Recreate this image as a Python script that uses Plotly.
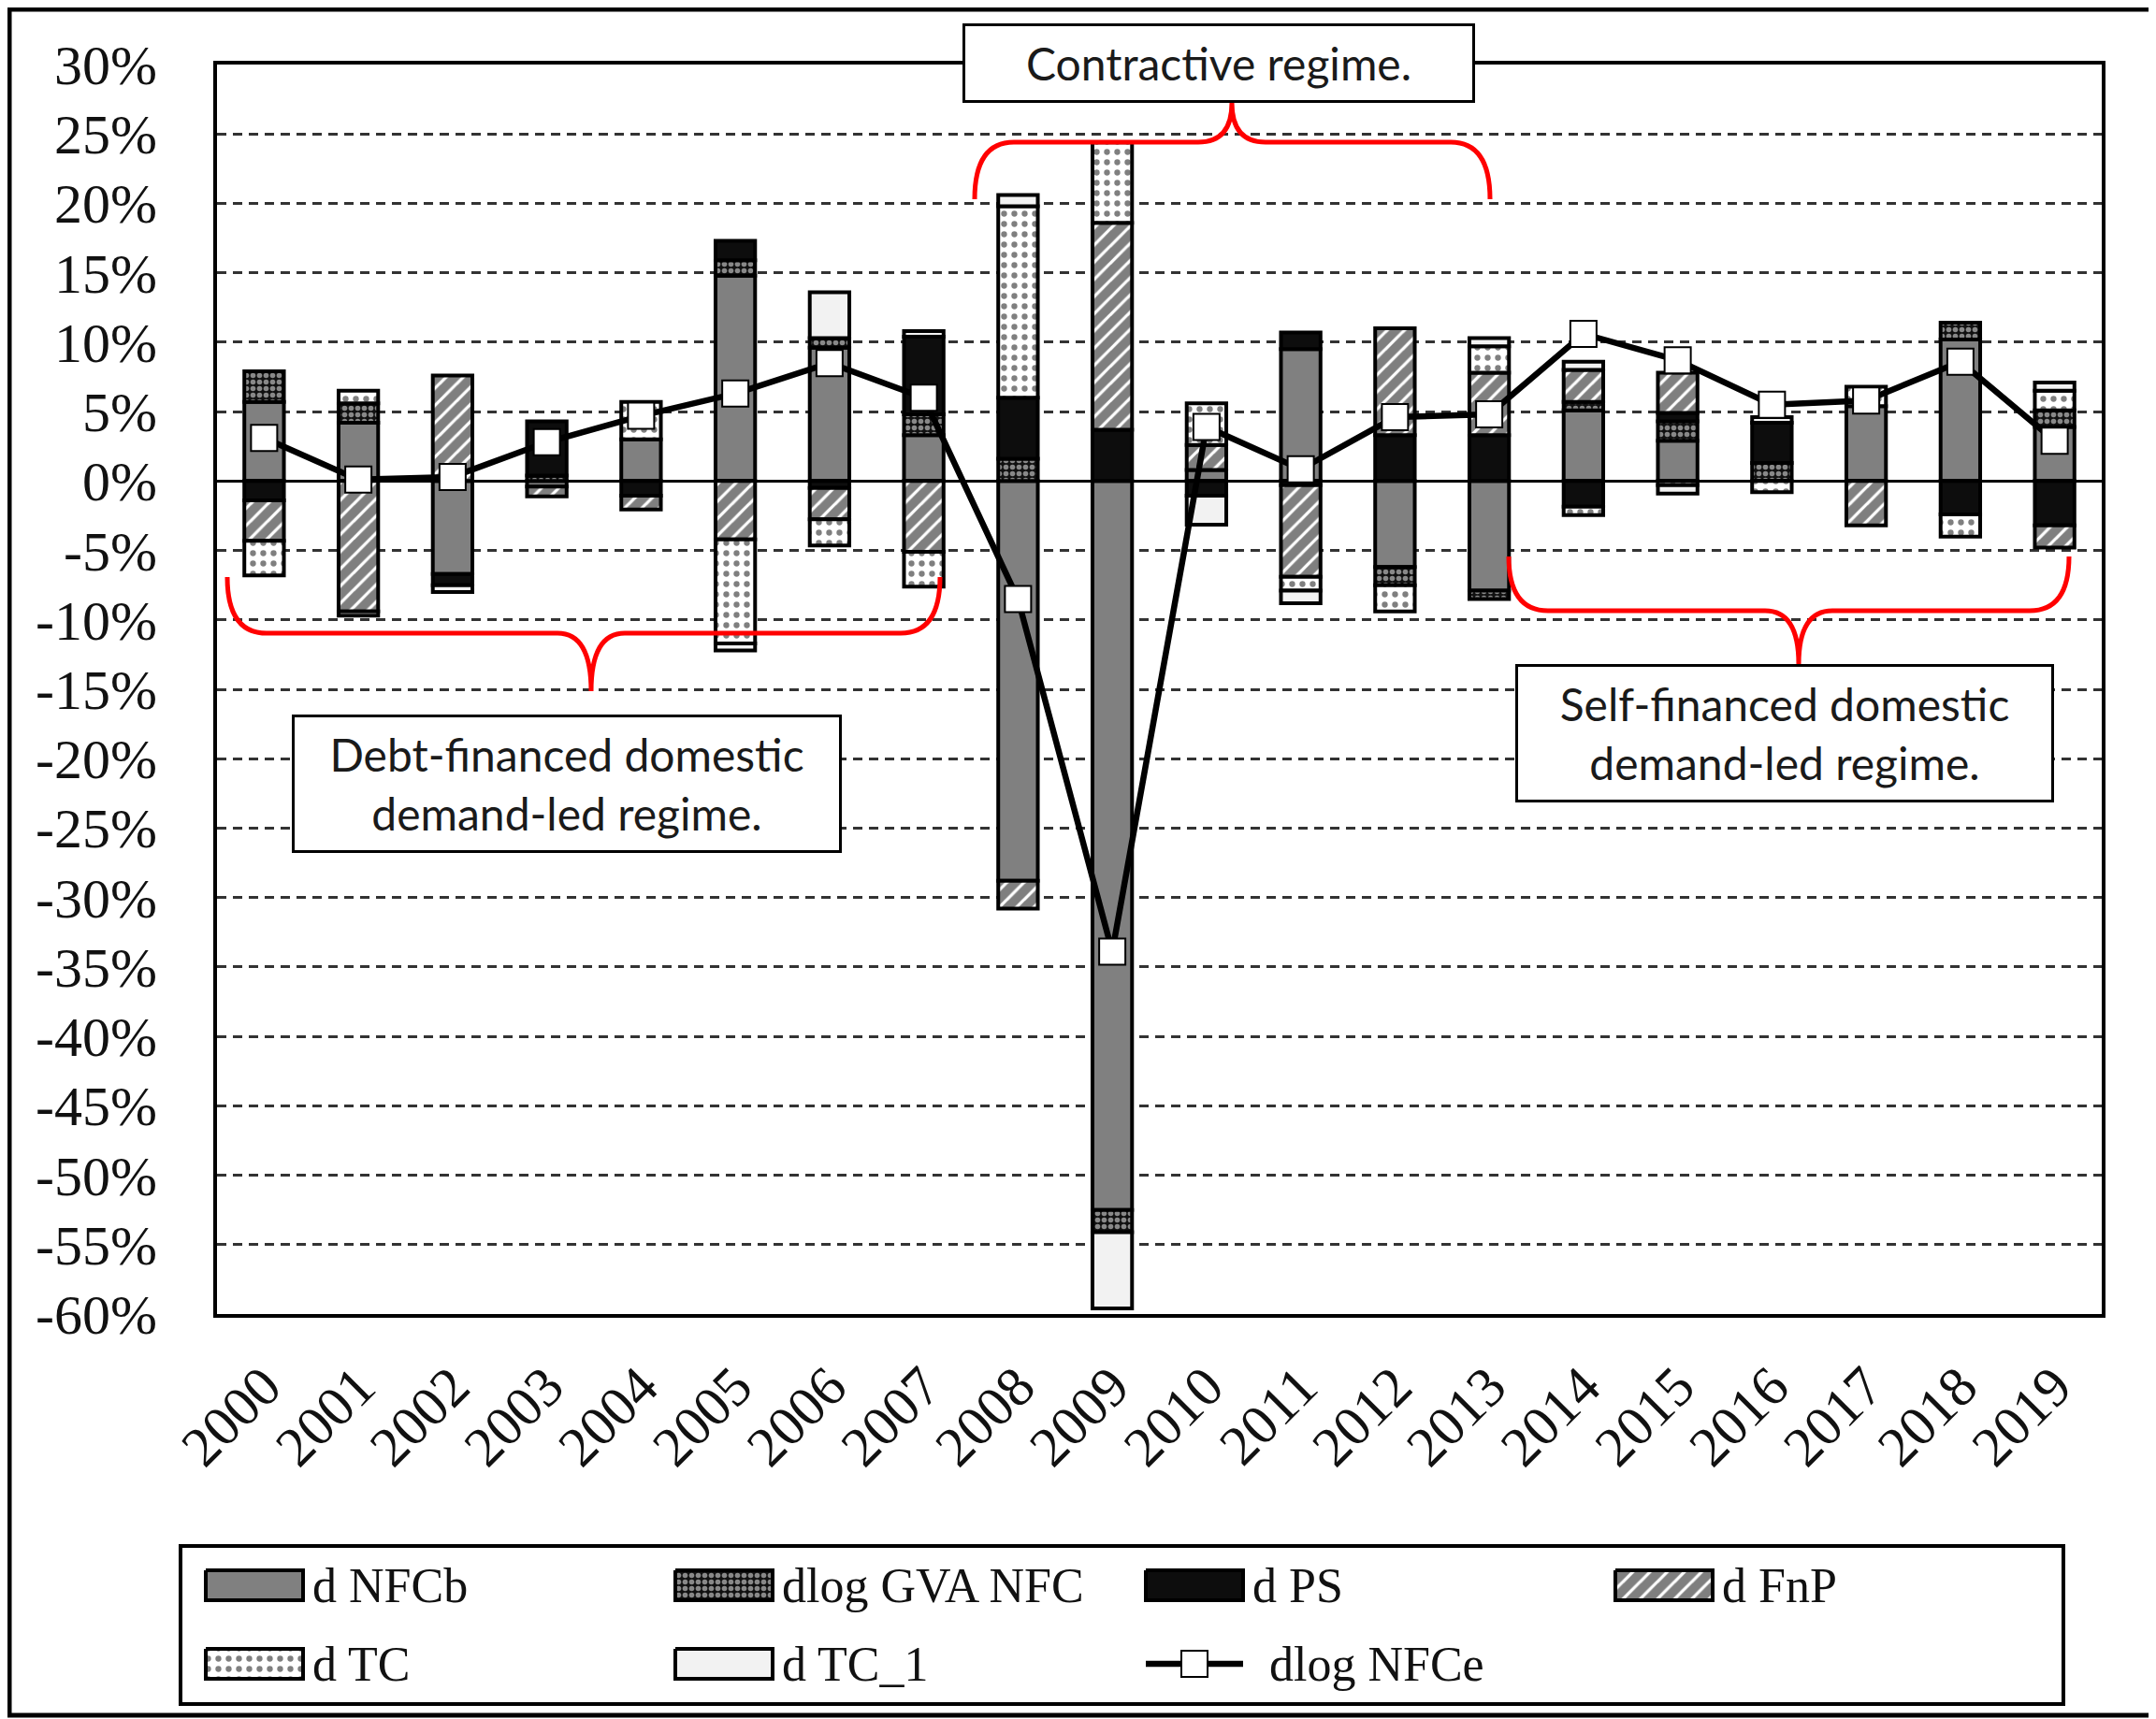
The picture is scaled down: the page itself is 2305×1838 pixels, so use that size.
import plotly.graph_objects as go

# ---------------- data (percent) ----------------
years = ["2000", "2001", "2002", "2003", "2004", "2005", "2006", "2007", "2008", "2009",
         "2010", "2011", "2012", "2013", "2014", "2015", "2016", "2017", "2018", "2019"]
d_nfcb = [5.7, 4.2, -6.7, -0.4, 3.0, 14.8, 9.6, 3.3, -28.8, -52.5,
          0.8, 9.5, -6.2, -7.9, 5.1, 2.9, 0, 5.4, 10.2, 3.9]
dlog_gva_nfc = [2.2, 1.4, 0, 0.4, 0, 1.1, 0.7, 1.5, 1.6, -1.6,
                0, -0.3, -1.3, -0.6, 0.6, 1.4, 1.3, 0, 1.2, 1.2]
d_ps = [-1.4, 0, -0.8, 3.9, -1.05, 1.4, -0.5, 5.6, 4.4, 3.7,
        -1.05, 1.2, 3.3, 3.3, -1.85, 0.6, 2.9, 0, -2.4, -3.2]
d_fnp = [-2.9, -9.4, 7.6, -0.7, -1.0, -4.2, -2.25, -5.1, -2.0, 14.9,
         1.8, -6.6, 7.7, 4.5, 2.3, 2.9, 0, -3.2, 0, -1.6]
d_tc = [-2.5, 0.9, 0, 0, 2.7, -7.5, -1.9, -2.5, 13.8, 5.8,
        3.0, -1.0, -1.9, 1.9, -0.6, -0.3, -0.8, 1.4, -1.6, 1.4]
d_tc_1 = [0, -0.3, -0.5, 0, 0, -0.5, 3.3, 0.4, 0.8, -5.5,
          -2.1, -0.9, 0, 0.6, 0.6, -0.6, 0.4, 0, 0, 0.6]
dlog_nfce = [3.1, 0.1, 0.3, 2.8, 4.7, 6.3, 8.5, 6.0, -8.5, -33.9,
             3.9, 0.85, 4.6, 4.8, 10.6, 8.7, 5.5, 5.8, 8.6, 2.9]

y_tick_values = [30, 25, 20, 15, 10, 5, 0, -5, -10, -15, -20, -25, -30, -35, -40, -45, -50, -55, -60]
y_tick_labels = ["30%", "25%", "20%", "15%", "10%", "5%", "0%", "-5%", "-10%", "-15%", "-20%",
                 "-25%", "-30%", "-35%", "-40%", "-45%", "-50%", "-55%", "-60%"]

series_names = ["d NFCb", "dlog GVA NFC", "d PS", "d FnP", "d TC", "d TC_1"]
series_values = [d_nfcb, dlog_gva_nfc, d_ps, d_fnp, d_tc, d_tc_1]

# ---------------- styles / layout constants ----------------
W, H = 2305, 1838
OFF = 8  # page body margin: layout positions below are given in page-pixel terms
SERIF = "Liberation Serif"
SANS = "Lato"
styles = {
    "d NFCb": dict(color="#808080"),
    "dlog GVA NFC": dict(color="black", pattern=dict(shape=".", fgcolor="white", bgcolor="#111111", size=7, solidity=0.5)),
    "d PS": dict(color="#0d0d0d"),
    "d FnP": dict(color="white", pattern=dict(shape="/", fgcolor="black", bgcolor="white", size=13, solidity=0.75)),
    "d TC": dict(color="white", pattern=dict(shape=".", fgcolor="black", bgcolor="white", size=11, solidity=0.26)),
    "d TC_1": dict(color="#f2f2f2"),
}

fig = go.Figure()
for name, vals in zip(series_names, series_values):
    st = styles[name]
    marker = dict(color=st["color"], line=dict(color="black", width=4))
    if "pattern" in st:
        marker["pattern"] = st["pattern"]
    fig.add_trace(go.Bar(x=years, y=[v if v else None for v in vals], name=name,
                         marker=marker, xaxis="x", yaxis="y", hoverinfo="skip"))

fig.add_trace(go.Scatter(x=years, y=dlog_nfce, name="dlog NFCe", mode="lines+markers",
                         line=dict(color="black", width=6.5),
                         marker=dict(symbol="square", size=28, color="white",
                                     line=dict(color="black", width=2)),
                         xaxis="x", yaxis="y"))

# ---------------- custom legend (on pixel overlay axis) ----------------
leg_cols = [220, 722, 1225, 1727]
leg_rows = [1695, 1779]
sw_w, sw_h = 104, 32
legend_items = [("d NFCb", 0, 0), ("dlog GVA NFC", 1, 0), ("d PS", 2, 0), ("d FnP", 3, 0),
                ("d TC", 0, 1), ("d TC_1", 1, 1)]
annotations = []
for name, c, r in legend_items:
    x0 = leg_cols[c]; x1 = x0 + sw_w
    yc = leg_rows[r]; y0 = yc - sw_h / 2; y1 = yc + sw_h / 2
    st = styles[name]
    kw = dict(fillcolor=st["color"])
    if "pattern" in st:
        kw["fillpattern"] = st["pattern"]
    fig.add_trace(go.Scatter(x=[x0, x1, x1, x0, x0], y=[y0, y0, y1, y1, y0], mode="lines",
                             fill="toself", line=dict(color="black", width=4),
                             xaxis="x2", yaxis="y2", hoverinfo="skip", **kw))
    annotations.append(dict(xref="x2", yref="y2", x=x1 + 8, y=yc, text=name, showarrow=False,
                            xanchor="left", yanchor="middle",
                            font=dict(family=SERIF, size=52, color="#111")))
# line legend item
lx0 = leg_cols[2]; lyc = leg_rows[1]
fig.add_trace(go.Scatter(x=[lx0, lx0 + sw_w], y=[lyc, lyc], mode="lines",
                         line=dict(color="black", width=6.5), xaxis="x2", yaxis="y2", hoverinfo="skip"))
fig.add_trace(go.Scatter(x=[lx0 + sw_w / 2], y=[lyc], mode="markers",
                         marker=dict(symbol="square", size=28, color="white", line=dict(color="black", width=2)),
                         xaxis="x2", yaxis="y2", hoverinfo="skip"))
annotations.append(dict(xref="x2", yref="y2", x=1355, y=lyc, text="dlog NFCe", showarrow=False,
                        xanchor="left", yanchor="middle", font=dict(family=SERIF, size=52, color="#111")))

# ---------------- regime boxes ----------------
box_font = dict(family=SANS, size=48, color="#1a1a1a")
boxes = [
    ("Contractive regime.", 1303, 67.5, 548, 85),
    ("Debt-financed domestic<br>demand-led regime.", 606, 838, 588, 148),
    ("Self-financed domestic<br>demand-led regime.", 1908, 784, 576, 148),
]
for text, cx, cy, bw, bh in boxes:
    annotations.append(dict(xref="x2", yref="y2", x=cx, y=cy, text=text, showarrow=False,
                            xanchor="center", yanchor="middle", font=box_font,
                            bgcolor="white", bordercolor="black", borderwidth=3, borderpad=0,
                            width=bw - 6, height=bh - 6, align="center"))


def brace(x0, x1, xm, y_end, y_h, y_tip, r=42, rt=36):
    return (f"M{x0},{y_end} Q{x0},{y_h} {x0 + r},{y_h} L{xm - rt},{y_h} Q{xm},{y_h} {xm},{y_tip} "
            f"Q{xm},{y_h} {xm + rt},{y_h} L{x1 - r},{y_h} Q{x1},{y_h} {x1},{y_end}")


shapes = []
for p in [brace(243, 1005, 632, 617, 677, 739),
          brace(1042, 1593, 1317, 213, 152, 110),
          brace(1613, 2212, 1923, 595, 653, 710)]:
    shapes.append(dict(type="path", path=p, xref="x2", yref="y2",
                       line=dict(color="#ff0000", width=5), layer="above"))

# legend frame and outer frame
shapes.append(dict(type="rect", xref="x2", yref="y2", x0=193, y0=1653, x1=2206, y1=1822,
                   line=dict(color="black", width=4), layer="above"))
shapes.append(dict(type="rect", xref="x2", yref="y2", x0=10, y0=10, x1=2300, y1=1834,
                   line=dict(color="black", width=5), layer="above"))

fig.update_layout(
    width=W, height=H, margin=dict(l=0, r=0, t=0, b=0, autoexpand=False), autosize=False,
    paper_bgcolor="white", plot_bgcolor="rgba(0,0,0,0)",
    barmode="relative", bargap=0.58, showlegend=False,
    xaxis=dict(domain=[(232 - OFF) / W, (2247 - OFF) / W], anchor="y", type="category", tickangle=-45,
               range=[-0.5, len(years) - 0.5], automargin=False,
               tickfont=dict(family=SERIF, size=60, color="#111"),
               showline=True, linewidth=4, linecolor="black", mirror=True,
               ticks="", showgrid=False, ticklabelstandoff=14),
    yaxis=dict(domain=[1 - (1405 - OFF) / H, 1 - (69 - OFF) / H], anchor="x", range=[-60, 30], automargin=False,
               tickvals=y_tick_values, ticktext=y_tick_labels,
               tickfont=dict(family=SERIF, size=60, color="#111"),
               showgrid=True, gridcolor="#333333", griddash="10px,7px", gridwidth=2.5,
               zeroline=True, zerolinecolor="black", zerolinewidth=3,
               showline=True, linewidth=4, linecolor="black", mirror=True,
               ticks="", ticklabelstandoff=48),
    xaxis2=dict(domain=[0, 1], anchor="y2", range=[OFF, W + OFF], visible=False, fixedrange=True, automargin=False),
    yaxis2=dict(domain=[0, 1], anchor="x2", range=[H + OFF, OFF], visible=False, fixedrange=True, automargin=False),
    annotations=annotations, shapes=shapes,
)

fig.write_html("out.html")
